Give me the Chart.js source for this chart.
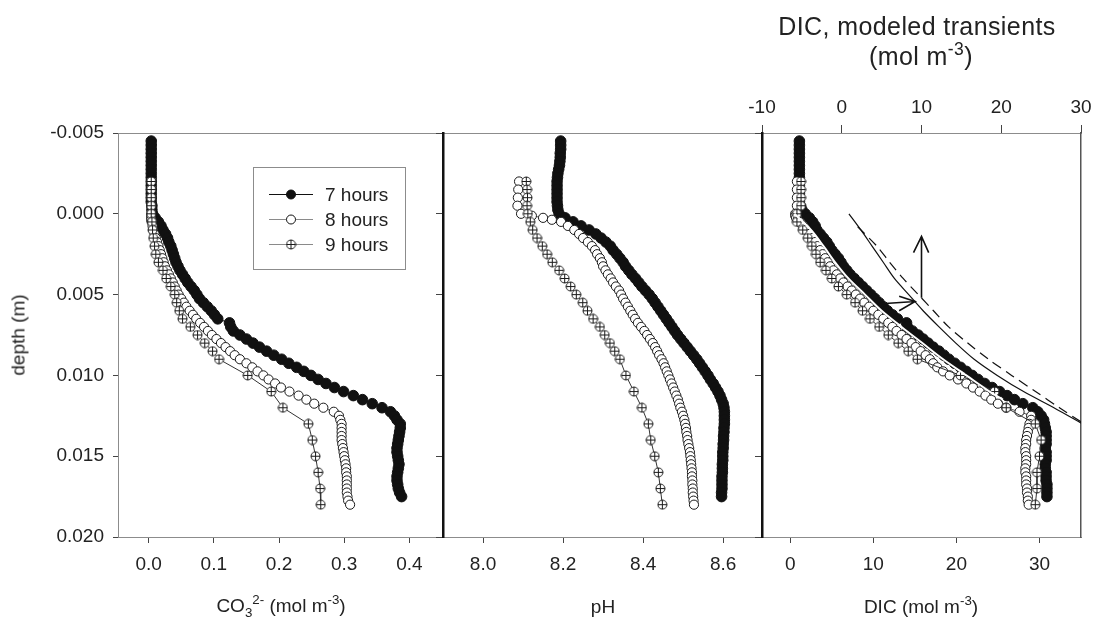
<!DOCTYPE html>
<html>
<head>
<meta charset="utf-8">
<title>CO3, pH and DIC depth profiles</title>
<script src="https://cdn.jsdelivr.net/npm/chart.js@4.4.1/dist/chart.umd.min.js"></script>
<style>
  body { margin: 0; background: #fff; }
  #wrap { position: relative; width: 1094px; height: 620px; font-family: "Liberation Sans", Arial, sans-serif; color: #222; }
  #wrap canvas { position: absolute; left: 0; top: 0; }
  .lbl { position: absolute; font-size: 19px; line-height: 19px; white-space: nowrap; transform: translateX(-50%); }
  .lbl sup, .lbl sub { font-size: 70%; line-height: 0; position: relative; vertical-align: baseline; }
  .lbl sup { top: -0.6em; }
  .lbl sub { top: 0.35em; }
  #depthTitle { left: 18px; top: 335px; transform: translate(-50%, -50%) rotate(-90deg); }
  .big { font-size: 25px; line-height: 25px; letter-spacing: 0.4px; }
</style>
</head>
<body>
<div id="wrap">
  <canvas id="co3Chart" width="1094" height="620"></canvas>
  <canvas id="phChart" width="1094" height="620"></canvas>
  <canvas id="dicChart" width="1094" height="620"></canvas>
  <div class="lbl" id="depthTitle">depth (m)</div>
  <div class="lbl" style="left:281px;top:596px">CO<sub>3</sub><sup>2-</sup> (mol m<sup>-3</sup>)</div>
  <div class="lbl" style="left:603px;top:597px">pH</div>
  <div class="lbl" style="left:921px;top:597px">DIC (mol m<sup>-3</sup>)</div>
  <div class="lbl big" style="left:917px;top:14px">DIC, modeled transients</div>
  <div class="lbl big" style="left:921px;top:44px">(mol m<sup>-3</sup>)</div>
</div>
<script>
const seriesNames = ['7 hours', '8 hours', '9 hours'];

const depthTicks = [-0.005, 0, 0.005, 0.010, 0.015, 0.020];
const co3Ticks = [0, 0.1, 0.2, 0.3, 0.4];
const phTicks = [8.0, 8.2, 8.4, 8.6];
const dicTicks = [0, 10, 20, 30];
const modelTicks = [-10, 0, 10, 20, 30];

// 7 hours profile
const depth7 = [
  -0.0045, -0.00425, -0.004, -0.00375, -0.0035, -0.00325, -0.003, -0.00275, -0.0025, -0.00225,
  -0.002, -0.00175, -0.0015, -0.00125, -0.001, -0.00075, -0.0005, -0.00025,
  0, 0.00025, 0.0005, 0.00075, 0.001, 0.00125, 0.0015, 0.00175,
  0.002, 0.00225, 0.0025, 0.00275, 0.003, 0.00325, 0.0035, 0.00375,
  0.004, 0.00425, 0.0045, 0.00475, 0.005, 0.00525, 0.0055, 0.00575,
  0.006, 0.00625, 0.0065, 0.00675, 0.007, 0.00725, 0.0075, 0.00775,
  0.008, 0.00825, 0.0085, 0.00875, 0.009, 0.00925, 0.0095, 0.00975,
  0.010, 0.01025, 0.0105, 0.01075, 0.011, 0.01125, 0.0115, 0.01175,
  0.012, 0.01225, 0.0125, 0.01275, 0.013, 0.01325, 0.0135, 0.01375,
  0.014, 0.01425, 0.0145, 0.01475, 0.015, 0.01525, 0.0155, 0.01575,
  0.016, 0.01625, 0.0165, 0.01675, 0.017, 0.01725, 0.0175];
const co3_7 = [
  0.004, 0.004, 0.004, 0.004, 0.004, 0.004, 0.004, 0.004, 0.004, 0.004,
  0.004, 0.004, 0.004, 0.004, 0.004, 0.004, 0.005, 0.005,
  0.006, 0.010, 0.015, 0.019, 0.022, 0.026, 0.029, 0.031,
  0.034, 0.036, 0.038, 0.040, 0.042, 0.045, 0.048, 0.052,
  0.056, 0.060, 0.065, 0.070, 0.074, 0.078, 0.084, 0.090,
  0.096, 0.101, 0.106, 0.124, 0.126, 0.130, 0.140, 0.150,
  0.160, 0.170, 0.181, 0.192, 0.204, 0.215, 0.227, 0.238,
  0.249, 0.260, 0.272, 0.285, 0.299, 0.314, 0.328, 0.343,
  0.358, 0.371, 0.377, 0.381, 0.386, 0.386, 0.385, 0.384,
  0.383, 0.382, 0.381, 0.381, 0.382, 0.383, 0.384, 0.383,
  0.382, 0.381, 0.381, 0.382, 0.383, 0.385, 0.388];
const ph_7 = [
  8.194, 8.194, 8.194, 8.193, 8.193, 8.192, 8.191, 8.189, 8.187, 8.186,
  8.185, 8.185, 8.185, 8.185, 8.185, 8.185, 8.186, 8.187,
  8.190, 8.205, 8.225, 8.245, 8.265, 8.282, 8.295, 8.307,
  8.318, 8.325, 8.334, 8.342, 8.350, 8.356, 8.364, 8.372,
  8.381, 8.389, 8.397, 8.406, 8.415, 8.423, 8.430, 8.437,
  8.444, 8.451, 8.458, 8.465, 8.472, 8.479, 8.486, 8.494,
  8.502, 8.510, 8.518, 8.526, 8.534, 8.541, 8.548, 8.555,
  8.562, 8.568, 8.575, 8.581, 8.587, 8.592, 8.596, 8.600,
  8.602, 8.603, 8.603, 8.603, 8.603, 8.602, 8.602, 8.601,
  8.601, 8.600, 8.600, 8.599, 8.599, 8.599, 8.598, 8.598,
  8.598, 8.597, 8.597, 8.597, 8.597, 8.596, 8.596];
const dic_7 = [
  1.1, 1.1, 1.1, 1.1, 1.1, 1.1, 1.1, 1.1, 1.1, 1.1,
  1.1, 1.1, 1.1, 1.1, 1.1, 1.1, 1.2, 1.4,
  1.8, 2.3, 2.7, 3.0, 3.2, 3.6, 4.0, 4.4,
  4.7, 5.0, 5.4, 5.8, 6.1, 6.4, 6.8, 7.2,
  7.7, 8.2, 8.7, 9.2, 9.7, 10.2, 10.7, 11.2,
  11.7, 12.3, 12.9, 14.0, 14.1, 14.7, 15.4, 16.0,
  16.6, 17.2, 17.9, 18.5, 19.1, 19.8, 20.5, 21.2,
  21.9, 22.6, 23.4, 24.3, 25.2, 26.1, 27.0, 28.0,
  29.2, 29.8, 30.2, 30.5, 30.6, 30.7, 30.8, 30.8,
  30.8, 30.8, 30.7, 30.8, 30.8, 30.8, 30.7, 30.7,
  30.8, 30.8, 30.8, 30.9, 30.9, 30.9, 30.9];

// 8 hours profile
const depth8 = [
  -0.002, -0.0015, -0.001, -0.0005,
  0, 0.00012, 0.00025, 0.00037, 0.0005, 0.00075, 0.001, 0.00125, 0.0015, 0.00175,
  0.002, 0.00225, 0.0025, 0.00275, 0.003, 0.00325, 0.0035, 0.00375,
  0.004, 0.00425, 0.0045, 0.00475, 0.005, 0.00525, 0.0055, 0.00575,
  0.006, 0.00625, 0.0065, 0.00675, 0.007, 0.00725, 0.0075, 0.00775,
  0.008, 0.00825, 0.0085, 0.00875, 0.009, 0.00925, 0.0095, 0.00975,
  0.010, 0.01025, 0.0105, 0.01075, 0.011, 0.01125, 0.0115, 0.01175,
  0.012, 0.01225, 0.0125, 0.01275, 0.013, 0.01325, 0.0135, 0.01375,
  0.014, 0.01425, 0.0145, 0.01475, 0.015, 0.01525, 0.0155, 0.01575,
  0.016, 0.01625, 0.0165, 0.01675, 0.017, 0.01725, 0.0175, 0.01775,
  0.018];
const co3_8 = [
  0.004, 0.004, 0.004, 0.004,
  0.004, 0.004, 0.004, 0.004, 0.005, 0.006, 0.007, 0.009, 0.011, 0.013,
  0.015, 0.017, 0.019, 0.021, 0.023, 0.025, 0.028, 0.031,
  0.034, 0.037, 0.040, 0.043, 0.046, 0.050, 0.054, 0.058,
  0.063, 0.068, 0.073, 0.079, 0.085, 0.091, 0.097, 0.104,
  0.111, 0.118, 0.125, 0.132, 0.140, 0.150, 0.159, 0.167,
  0.176, 0.184, 0.194, 0.203, 0.216, 0.230, 0.242, 0.254,
  0.268, 0.284, 0.292, 0.294, 0.296, 0.296, 0.296, 0.296,
  0.296, 0.297, 0.298, 0.299, 0.300, 0.301, 0.302, 0.303,
  0.303, 0.304, 0.304, 0.304, 0.304, 0.304, 0.305, 0.306,
  0.309];
const ph_8 = [
  8.090, 8.088, 8.087, 8.086,
  8.095, 8.122, 8.150, 8.172, 8.195, 8.212, 8.228, 8.240, 8.250, 8.262,
  8.272, 8.280, 8.285, 8.292, 8.297, 8.300, 8.306, 8.312,
  8.319, 8.325, 8.332, 8.340, 8.345, 8.350, 8.356, 8.362,
  8.368, 8.374, 8.380, 8.387, 8.395, 8.403, 8.410, 8.417,
  8.424, 8.430, 8.435, 8.440, 8.446, 8.451, 8.455, 8.459,
  8.463, 8.467, 8.471, 8.475, 8.479, 8.483, 8.487, 8.490,
  8.493, 8.497, 8.500, 8.503, 8.505, 8.507, 8.508, 8.510,
  8.511, 8.513, 8.515, 8.517, 8.518, 8.519, 8.520, 8.521,
  8.522, 8.522, 8.523, 8.523, 8.524, 8.524, 8.525, 8.526,
  8.527];
const dic_8 = [
  0.8, 0.8, 0.8, 0.8,
  0.6, 0.6, 0.7, 0.9, 1.1, 1.5, 1.9, 2.3, 2.7, 3.0,
  3.3, 3.6, 3.9, 4.2, 4.5, 4.8, 5.2, 5.6,
  6.0, 6.4, 6.9, 7.4, 7.9, 8.4, 8.9, 9.5,
  10.0, 10.6, 11.2, 11.8, 12.3, 12.8, 13.4, 14.0,
  14.6, 15.1, 15.7, 16.3, 16.8, 17.2, 17.7, 18.4,
  19.2, 20.2, 21.2, 22.0, 22.8, 23.5, 24.2, 25.0,
  26.0, 27.6, 29.0, 29.0, 28.8, 28.7, 28.6, 28.5,
  28.4, 28.4, 28.3, 28.3, 28.4, 28.4, 28.4, 28.3,
  28.3, 28.4, 28.4, 28.4, 28.5, 28.5, 28.6, 28.6,
  28.7];

// 9 hours profile
const depth9 = [
  -0.002, -0.0015, -0.001, -0.0005,
  0, 0.0005, 0.001, 0.0015, 0.002, 0.0025, 0.003, 0.0035, 0.004, 0.0045,
  0.005, 0.0055, 0.006, 0.0065, 0.007, 0.0075, 0.008, 0.0085, 0.009,
  0.010, 0.011, 0.012, 0.013, 0.014, 0.015, 0.016, 0.017, 0.018];
const co3_9 = [
  0.004, 0.004, 0.004, 0.004,
  0.004, 0.005, 0.006, 0.007, 0.009, 0.011, 0.015, 0.022, 0.027, 0.034,
  0.040, 0.043, 0.047, 0.052, 0.064, 0.075, 0.086, 0.098, 0.108,
  0.152, 0.188, 0.206, 0.245, 0.251, 0.256, 0.260, 0.263, 0.264];
const ph_9 = [
  8.108, 8.110, 8.111, 8.110,
  8.112, 8.118, 8.124, 8.135, 8.148, 8.160, 8.173, 8.190, 8.204, 8.219,
  8.233, 8.249, 8.261, 8.275, 8.292, 8.304, 8.317, 8.329, 8.342,
  8.357, 8.377, 8.397, 8.413, 8.419, 8.429, 8.438, 8.443, 8.448];
const dic_9 = [
  1.3, 1.3, 1.3, 1.3,
  0.8, 0.8, 1.5, 2.1, 2.6, 3.1, 3.6, 4.3, 5.0, 5.8,
  6.8, 7.8, 8.7, 9.6, 10.7, 11.8, 13.0, 14.2, 15.3,
  20.5, 24.6, 26.0, 29.5, 30.2, 30.0, 29.7, 29.7, 29.5];

// fitted DIC curve through the measurements (bottom DIC scale)
const fitDepth = [0, 0.001, 0.002, 0.003, 0.004, 0.005, 0.006, 0.007, 0.008, 0.009, 0.010, 0.011, 0.0115];
const fitDic = [0.5, 2.5, 4.0, 5.4, 7.0, 9.0, 11.0, 13.4, 15.9, 18.4, 21.2, 24.0, 25.6];

// modeled transients (top DIC scale)
const modelDepth = [0, 0.001, 0.002, 0.003, 0.004, 0.005, 0.006, 0.007, 0.008, 0.009, 0.010, 0.011, 0.012, 0.013];
const modelSolid = [0.9, 2.4, 3.8, 5.2, 6.6, 8.4, 10.2, 12.2, 14.3, 16.6, 19.5, 22.8, 26.6, 30.2];
const dashDepth = [0.0008, 0.002, 0.003, 0.004, 0.005, 0.006, 0.007, 0.008, 0.009, 0.010, 0.011, 0.012, 0.013];
const modelDashed = [2.0, 4.4, 6.0, 7.7, 9.6, 11.5, 13.4, 15.8, 18.4, 21.3, 24.3, 27.3, 30.4];

// arrows showing the direction of the transient shift (null breaks the path)
const arrowX = [10, 10, null, 9.0, 10, 10.9, null, 4.5, 9.2, null, 7.2, 9.2, 7.2];
const arrowDepth = [0.0052, 0.0014, null, 0.0024, 0.0014, 0.0024, null, 0.00558, 0.00543, null, 0.0051, 0.00543, 0.0060];

Chart.defaults.font.family = "'Liberation Sans', Arial, Helvetica, sans-serif";
Chart.defaults.font.size = 19;
Chart.defaults.color = '#222';

// circle with a plus inside, used for the 9 hours markers
const plusCircle = document.createElement('canvas');
plusCircle.width = plusCircle.height = 11;
(function () {
  const c = plusCircle.getContext('2d');
  c.fillStyle = '#fff';
  c.strokeStyle = '#1a1a1a';
  c.lineWidth = 1;
  c.beginPath(); c.arc(5.5, 5.5, 4.5, 0, 2 * Math.PI); c.fill(); c.stroke();
  c.beginPath();
  c.moveTo(1, 5.5); c.lineTo(10, 5.5);
  c.moveTo(5.5, 1); c.lineTo(5.5, 10);
  c.stroke();
})();

const markerStyles = [
  { borderColor: '#111', borderWidth: 1, pointRadius: 5.3, pointBackgroundColor: '#111', pointBorderColor: '#111', pointBorderWidth: 1, order: 3 },
  { borderColor: '#555', borderWidth: 1, pointRadius: 4.6, pointBackgroundColor: '#fff', pointBorderColor: '#1a1a1a', pointBorderWidth: 1, order: 2 },
  { borderColor: '#333', borderWidth: 1, pointStyle: plusCircle, order: 1 }
];

function profile(values, depths) {
  return depths.map((d, i) => ({ x: values[i], y: d }));
}
function measured(values, depths, k) {
  return Object.assign({ label: seriesNames[k], data: profile(values, depths), showLine: true }, markerStyles[k]);
}

function fixSize(prop, size) {
  return scale => {
    scale[prop] = size;
    scale.paddingLeft = scale.paddingRight = scale.paddingTop = scale.paddingBottom = 0;
  };
}
function useTicks(values) {
  return scale => { scale.ticks = values.map(v => ({ value: v })); };
}

function depthAxis(width, labels, border) {
  return {
    type: 'linear', position: 'left', reverse: true, min: -0.005, max: 0.020,
    afterBuildTicks: useTicks(depthTicks),
    afterFit: fixSize('width', width),
    ticks: { display: labels, padding: 9, callback: v => v.toFixed(3) },
    grid: { drawOnChartArea: false, tickLength: labels ? 5 : 7, color: '#444' },
    border: border
  };
}
function valueAxis(min, max, ticks, fmt) {
  return {
    type: 'linear', position: 'bottom', min: min, max: max,
    afterBuildTicks: useTicks(ticks),
    afterFit: fixSize('height', 83),
    ticks: { padding: 10, maxRotation: 0, minRotation: 0, callback: fmt },
    grid: { drawOnChartArea: false, tickLength: 6, color: '#444' },
    border: { color: '#8c8c8c', width: 1 }
  };
}
function topEdge() {
  return {
    type: 'linear', position: 'top',
    afterFit: fixSize('height', 133),
    ticks: { display: false }, grid: { display: false },
    border: { color: '#8c8c8c', width: 1 }
  };
}

const legendPanel = {
  id: 'legendPanel',
  afterDraw(chart) {
    const ctx = chart.ctx;
    ctx.save();
    ctx.fillStyle = '#fff';
    ctx.fillRect(253.5, 167.5, 152, 102);
    ctx.strokeStyle = '#8c8c8c';
    ctx.lineWidth = 1;
    ctx.strokeRect(253.5, 167.5, 152, 102);
    ctx.font = "19px 'Liberation Sans', Arial, sans-serif";
    ctx.textBaseline = 'middle';
    seriesNames.forEach((name, k) => {
      const y = 194.5 + 25 * k;
      ctx.strokeStyle = k === 0 ? '#111' : '#8a8a8a';
      ctx.beginPath(); ctx.moveTo(269, y); ctx.lineTo(313, y); ctx.stroke();
      if (k === 2) {
        ctx.drawImage(plusCircle, 291 - 5.5, y - 5.5);
      } else {
        ctx.beginPath();
        ctx.arc(291, y, 4.5, 0, 2 * Math.PI);
        ctx.fillStyle = k === 0 ? '#111' : '#fff';
        ctx.fill();
        ctx.strokeStyle = '#111';
        ctx.stroke();
      }
      ctx.fillStyle = '#222';
      ctx.fillText(name, 325, y + 1);
    });
    ctx.restore();
  }
};

function profileChart(id, padRight, scales, datasets, plugins) {
  return new Chart(document.getElementById(id), {
    type: 'scatter',
    data: { datasets: datasets },
    options: {
      responsive: false,
      animation: false,
      events: [],
      layout: { padding: { left: 0, top: 0, bottom: 0, right: padRight } },
      scales: scales,
      plugins: { legend: { display: false }, tooltip: { enabled: false } }
    },
    plugins: plugins || []
  });
}

// carbonate ion
profileChart('co3Chart', 1094 - 442, {
  x: valueAxis(-0.047, 0.45, co3Ticks, v => v.toFixed(1)),
  xTop: topEdge(),
  y: depthAxis(118, true, { color: '#8c8c8c', width: 1 })
}, [
  measured(co3_7, depth7, 0),
  measured(co3_8, depth8, 1),
  measured(co3_9, depth9, 2)
], [legendPanel]);

// pH
profileChart('phChart', 1094 - 762, {
  x: valueAxis(7.9, 8.697, phTicks, v => v.toFixed(1)),
  xTop: topEdge(),
  y: depthAxis(443, false, { color: '#111', width: 2.5 })
}, [
  measured(ph_7, depth7, 0),
  measured(ph_8, depth8, 1),
  measured(ph_9, depth9, 2)
]);

// DIC with modeled transients on the top axis
profileChart('dicChart', 1094 - 1081, {
  x: valueAxis(-3.4, 35.0, dicTicks, v => String(v)),
  xT: {
    type: 'linear', position: 'top', min: -10, max: 30,
    afterBuildTicks: useTicks(modelTicks),
    afterFit: fixSize('height', 133),
    ticks: { padding: 6, maxRotation: 0, minRotation: 0, callback: v => String(v) },
    grid: { drawOnChartArea: false, tickLength: 8, color: '#444' },
    border: { color: '#8c8c8c', width: 1 }
  },
  y: depthAxis(762, false, { color: '#111', width: 2.5 }),
  yR: {
    type: 'linear', position: 'right', reverse: true, min: -0.005, max: 0.020,
    afterFit: fixSize('width', 0),
    ticks: { display: false }, grid: { display: false },
    border: { color: '#555', width: 1.5 }
  }
}, [
  measured(dic_7, depth7, 0),
  measured(dic_8, depth8, 1),
  measured(dic_9, depth9, 2),
  { label: 'fit', data: profile(fitDic, fitDepth), showLine: true, borderColor: '#fff', borderWidth: 2, pointRadius: 0, tension: 0.3, order: 0 },
  { label: 'model', data: profile(modelSolid, modelDepth), xAxisID: 'xT', showLine: true, borderColor: '#111', borderWidth: 1.2, pointRadius: 0, tension: 0.3, order: 0 },
  { label: 'model dashed', data: profile(modelDashed, dashDepth), xAxisID: 'xT', showLine: true, borderColor: '#111', borderWidth: 1.2, borderDash: [10, 6], pointRadius: 0, tension: 0.3, order: 0 },
  { label: 'arrows', data: profile(arrowX, arrowDepth), xAxisID: 'xT', showLine: true, spanGaps: false, borderColor: '#111', borderWidth: 1.6, pointRadius: 0, order: 0 }
]);
</script>
</body>
</html>
